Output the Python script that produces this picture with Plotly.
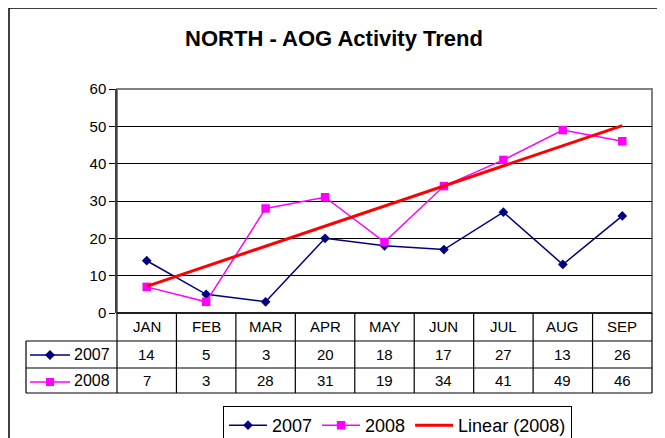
import numpy as np
import plotly.graph_objects as go

months = ["JAN", "FEB", "MAR", "APR", "MAY", "JUN", "JUL", "AUG", "SEP"]
sales_2007 = [14, 5, 3, 20, 18, 17, 27, 13, 26]
sales_2008 = [7, 3, 28, 31, 19, 34, 41, 49, 46]
y_ticks = [0, 10, 20, 30, 40, 50, 60]

FONT = "Arial, Liberation Sans, sans-serif"
W, H = 665, 438
OFF = 8  # page offset of the figure in the browser
PX0, PX1, PY0, PY1 = 117, 652, 89, 313
L, R, T, B = PX0 - OFF, W - (PX1 - OFF), PY0 - OFF, H - (PY1 - OFF)
PW, PH = PX1 - PX0, PY1 - PY0


def px_x(xp):
    return (xp - PX0) / PW


def px_y(yp):
    return (PY1 - yp) / PH


xs = list(range(len(months)))
coef = np.polyfit(np.arange(1, len(sales_2008) + 1), sales_2008, 1)
trend = list(np.polyval(coef, np.arange(1, len(sales_2008) + 1)))

fig = go.Figure()
fig.add_trace(go.Scatter(
    x=xs, y=sales_2007, name="2007", mode="lines+markers",
    line=dict(color="#000080", width=1.5),
    marker=dict(symbol="diamond", size=7.5, color="#000080"),
))
fig.add_trace(go.Scatter(
    x=xs, y=sales_2008, name="2008", mode="lines+markers",
    line=dict(color="#FF00FF", width=1.5),
    marker=dict(symbol="square", size=8.5, color="#FF00FF"),
))
fig.add_trace(go.Scatter(
    x=xs, y=trend, name="Linear (2008)", mode="lines",
    line=dict(color="#FF0000", width=3),
))

shapes = []
shapes.append(dict(type="rect", xref="paper", yref="paper", x0=0, x1=1, y0=0, y1=1,
                   line=dict(color="#808080", width=2), layer="below"))
row_lines = [341, 368, 393]
y_top_tab = px_y(313)
y_bot_tab = px_y(393)
for yl in row_lines:
    shapes.append(dict(type="line", xref="paper", yref="paper",
                       x0=px_x(26), x1=1, y0=px_y(yl), y1=px_y(yl),
                       line=dict(color="black", width=1.2)))
for i in range(len(months) - 1):
    shapes.append(dict(type="line", xref="x", yref="paper",
                       x0=i + 0.5, x1=i + 0.5, y0=y_top_tab, y1=y_bot_tab,
                       line=dict(color="black", width=1.2)))
shapes.append(dict(type="line", xref="paper", yref="paper", x0=0, x1=0,
                   y0=y_top_tab, y1=y_bot_tab, line=dict(color="black", width=1.2)))
shapes.append(dict(type="line", xref="paper", yref="paper", x0=1, x1=1,
                   y0=y_top_tab, y1=y_bot_tab, line=dict(color="black", width=1.2)))
shapes.append(dict(type="line", xref="paper", yref="paper", x0=px_x(26), x1=px_x(26),
                   y0=px_y(341), y1=y_bot_tab, line=dict(color="black", width=1.2)))
shapes.append(dict(type="line", xref="paper", yref="paper", x0=0, x1=1, y0=0, y1=0,
                   line=dict(color="black", width=1.5)))
key_rows = [(355, "#000080", "diamond"), (382, "#FF00FF", "square")]
for yk, col, sym in key_rows:
    shapes.append(dict(type="line", xref="paper", yref="paper",
                       x0=px_x(30), x1=px_x(70), y0=px_y(yk), y1=px_y(yk),
                       line=dict(color=col, width=1.5)))
    cx = 50
    if sym == "diamond":
        pts = [(cx, yk - 5), (cx + 5, yk), (cx, yk + 5), (cx - 5, yk)]
    else:
        pts = [(cx - 4, yk - 4), (cx + 4, yk - 4), (cx + 4, yk + 4), (cx - 4, yk + 4)]
    path = "M " + " L ".join(f"{px_x(a)},{px_y(b)}" for a, b in pts) + " Z"
    shapes.append(dict(type="path", xref="paper", yref="paper", path=path,
                       fillcolor=col, line=dict(color=col, width=0)))
shapes.append(dict(type="line", xref="paper", yref="paper", x0=px_x(9), x1=px_x(700),
                   y0=px_y(8), y1=px_y(8), line=dict(color="black", width=1.5)))
shapes.append(dict(type="line", xref="paper", yref="paper", x0=px_x(9), x1=px_x(9),
                   y0=px_y(8), y1=px_y(470), line=dict(color="black", width=1.5)))

annotations = []
for row_y, label, vals in [(354.5, "2007", sales_2007), (380.5, "2008", sales_2008)]:
    annotations.append(dict(xref="paper", yref="paper", x=px_x(72), y=px_y(row_y),
                            text=label, showarrow=False, xanchor="left", yanchor="middle",
                            font=dict(family=FONT, size=16, color="black")))
    for i, v in enumerate(vals):
        annotations.append(dict(xref="x", yref="paper", x=i, y=px_y(row_y),
                                text=str(v), showarrow=False, xanchor="center",
                                yanchor="middle",
                                font=dict(family=FONT, size=15, color="black")))
for i, m in enumerate(months):
    annotations.append(dict(xref="x", yref="paper", x=i, y=px_y(326.5),
                            text=m, showarrow=False, xanchor="center", yanchor="middle",
                            font=dict(family=FONT, size=15, color="black")))

fig.update_layout(
    width=W, height=H,
    margin=dict(l=L, r=R, t=T, b=B, autoexpand=False),
    paper_bgcolor="white", plot_bgcolor="white",
    title=dict(text="<b>NORTH - AOG Activity Trend</b>", x=(334 - OFF) / W, xref="container",
               y=1 - (38 - OFF) / H, yref="container", xanchor="center", yanchor="middle",
               font=dict(family=FONT, size=22, color="black")),
    xaxis=dict(range=[-0.5, len(months) - 0.5], showticklabels=False, ticks="",
               showgrid=False, zeroline=False, showline=False, fixedrange=True),
    yaxis=dict(range=[0, 60], tickvals=y_ticks, ticks="outside", ticklen=6,
               tickcolor="black", showgrid=True, gridcolor="black", gridwidth=1,
               zeroline=False, showline=True, linecolor="#404040", linewidth=1.5,
               tickfont=dict(family=FONT, size=15, color="black")),
    showlegend=True,
    legend=dict(orientation="h", x=px_x(223), xanchor="left", y=px_y(406), yanchor="top",
                bordercolor="black", borderwidth=1, bgcolor="white",
                font=dict(family=FONT, size=18, color="black"),
                tracegroupgap=0, itemwidth=38),
    shapes=shapes,
    annotations=annotations,
)

fig.write_html("out.html")
